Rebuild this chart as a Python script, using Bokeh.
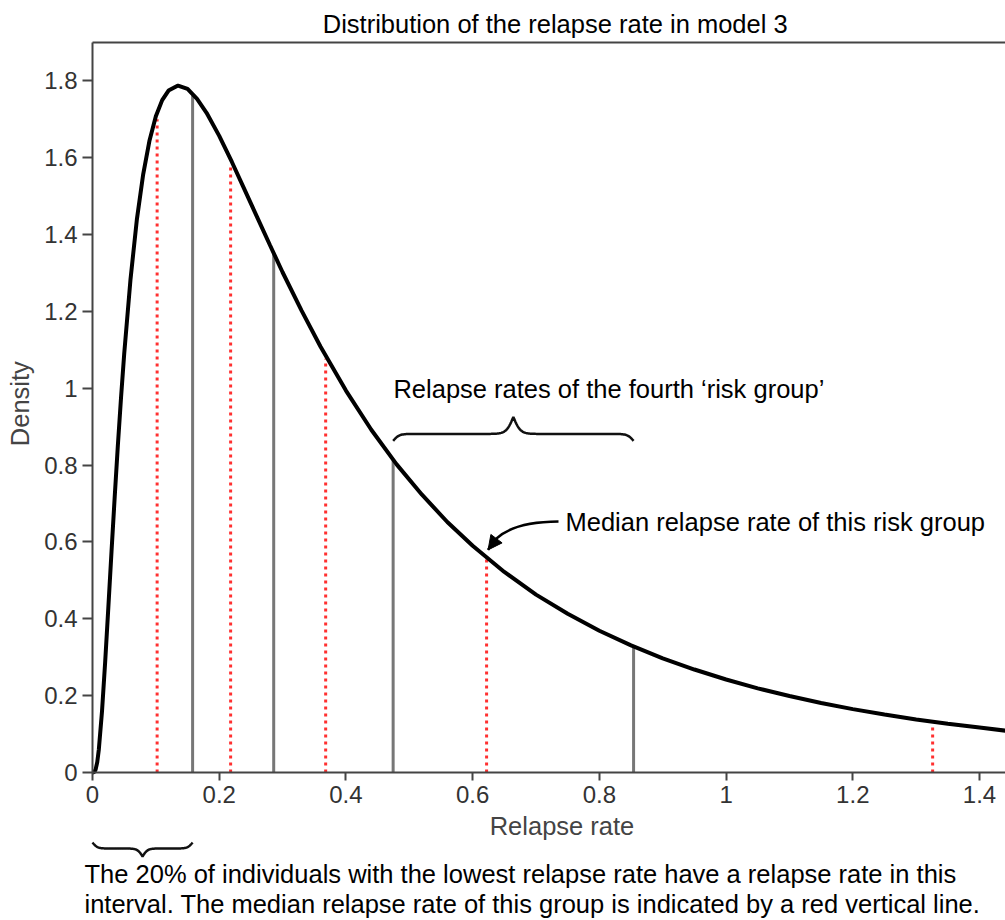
import numpy as np
from bokeh.plotting import figure
from bokeh.models import Label, FixedTicker, Arrow, NormalHead, Range1d
from bokeh.embed import file_html
from bokeh.resources import INLINE

# ---------------- data ----------------
curve_x = [0, 0.0025, 0.005, 0.0075, 0.01, 0.015, 0.02, 0.025, 0.03, 0.035, 0.04, 0.045,
           0.05, 0.06, 0.07, 0.08, 0.09, 0.10, 0.11, 0.12, 0.135, 0.15, 0.165, 0.18,
           0.20, 0.22, 0.24, 0.26, 0.28, 0.30, 0.33, 0.36, 0.40, 0.44, 0.48, 0.52,
           0.56, 0.60, 0.65, 0.70, 0.75, 0.80, 0.85, 0.90, 0.95, 1.00, 1.05, 1.10,
           1.15, 1.20, 1.25, 1.30, 1.35, 1.40, 1.45]
curve_y = [0, 0.001, 0.008, 0.027, 0.060, 0.159, 0.288, 0.430, 0.575, 0.716, 0.851, 0.975,
           1.089, 1.284, 1.439, 1.557, 1.645, 1.708, 1.750, 1.775, 1.788, 1.779, 1.753, 1.717,
           1.657, 1.589, 1.517, 1.445, 1.373, 1.302, 1.202, 1.108, 0.994, 0.892, 0.802, 0.723,
           0.652, 0.590, 0.522, 0.463, 0.413, 0.369, 0.331, 0.297, 0.268, 0.242, 0.219, 0.199,
           0.181, 0.165, 0.151, 0.138, 0.127, 0.117, 0.107]

# quintile boundaries (grey lines) and group medians (red dotted lines)
quintile_x = [0.158, 0.286, 0.4745, 0.854]
quintile_y = [1.762, 1.350, 0.812, 0.328]
median_x = [0.102, 0.218, 0.368, 0.622, 1.326]
median_y = [1.700, 1.584, 1.077, 0.556, 0.122]

x_ticks = [0, 0.2, 0.4, 0.6, 0.8, 1, 1.2, 1.4]
x_tick_labels = ["0", "0.2", "0.4", "0.6", "0.8", "1", "1.2", "1.4"]
y_ticks = [0, 0.2, 0.4, 0.6, 0.8, 1, 1.2, 1.4, 1.6, 1.8]
y_tick_labels = ["0", "0.2", "0.4", "0.6", "0.8", "1", "1.2", "1.4", "1.6", "1.8"]

title_text = "Distribution of the relapse rate in model 3"
x_label = "Relapse rate"
y_label = "Density"
group_text = "Relapse rates of the fourth \u2018risk group\u2019"
median_text = "Median relapse rate of this risk group"
note_lines = ["The 20% of individuals with the lowest relapse rate have a relapse rate in this",
              "interval. The median relapse rate of this group is indicated by a red vertical line."]

# ---------------- layout ----------------
FONT = "Liberation Sans"
TXT = "25.5px"
W, H = 1005, 920
BOX_L, BOX_T, BOX_B = 92, 42, 772          # plot box edges in canvas pixels
X_MAX, Y_MAX = 1.441, 1.9
ux = X_MAX / (W - BOX_L)                    # data units per pixel (x)
uy = Y_MAX / (BOX_B - BOX_T)                # data units per pixel (y)
LIFT = 10                                   # text baseline correction, pixels

# the frame fills the whole canvas; the axes are pinned at 0
p = figure(width=W, height=H, output_backend="svg", toolbar_location=None,
           x_range=Range1d(-BOX_L * ux, X_MAX),
           y_range=Range1d(-(H - BOX_B) * uy, Y_MAX + BOX_T * uy),
           min_border_left=0, min_border_right=0, min_border_top=0, min_border_bottom=0)
p.grid.visible = False
p.outline_line_color = None
p.background_fill_color = "white"
p.border_fill_color = "white"

for ax, ticks, labels, tick_out, bounds in ((p.xaxis[0], x_ticks, x_tick_labels, 8, (0, X_MAX)),
                                            (p.yaxis[0], y_ticks, y_tick_labels, 10, (0, Y_MAX))):
    ax.fixed_location = 0
    ax.bounds = bounds
    ax.ticker = FixedTicker(ticks=ticks)
    ax.major_label_overrides = {t: l for t, l in zip(ticks, labels)}
    ax.axis_line_color = "#444444"
    ax.axis_line_width = 2
    ax.major_tick_line_color = "#444444"
    ax.major_tick_line_width = 2
    ax.major_tick_in = 0
    ax.major_tick_out = tick_out
    ax.minor_tick_line_color = None
    ax.major_label_text_font = FONT
    ax.major_label_text_font_size = "24px"
    ax.major_label_text_color = "#333333"
    ax.major_label_standoff = 5

# top border of the plot box
p.line([0, X_MAX], [Y_MAX, Y_MAX], line_color="#444444", line_width=2)

# grey quintile lines and red dotted median lines
p.segment(x0=quintile_x, y0=[0] * len(quintile_x), x1=quintile_x, y1=quintile_y,
          line_color="#777777", line_width=3)
p.segment(x0=median_x, y0=[0] * len(median_x), x1=median_x, y1=median_y,
          line_color="#ff3030", line_width=3, line_dash="3 4")

# density curve
p.line(curve_x, curve_y, line_color="black", line_width=4)


def label(x, y, text, size=TXT, color="black", align="left", angle=0.0):
    p.add_layout(Label(x=x, y=y, text=text, text_font=FONT, text_font_size=size,
                       text_color=color, text_align=align, text_baseline="alphabetic",
                       angle=angle))


def brace(xa, xb, y_end, h1, h2, s1, s2, n=120):
    xm = (xa + xb) / 2.0
    L = xm - xa
    u = np.linspace(0, L, n)
    yh = y_end + h1 * np.tanh(u / s1) + h2 * (1 - np.tanh((L - u) / s2))
    xs = np.concatenate([xa + u, (xb - u)[::-1]])
    ys = np.concatenate([yh, yh[::-1]])
    return xs, ys


# brace over the fourth risk group
bx, by = brace(quintile_x[2], quintile_x[3], 0.863, 7 * uy, 17 * uy, 6 * ux, 7 * ux)
p.line(bx, by, line_color="#111111", line_width=2.5)

# brace under the first risk group
bx2, by2 = brace(0.0, quintile_x[0], -70 * uy, -6 * uy, -8 * uy, 5 * ux, 5 * ux)
p.line(bx2, by2, line_color="#111111", line_width=2.5)

# curved arrow to the median of the fourth group
tip_x, tip_y = median_x[3] + 1.5 * ux, median_y[3] + 9 * uy
p.quadratic(x0=[0.7355], y0=[0.653], x1=[tip_x], y1=[tip_y], cx=[0.645], cy=[0.652],
            line_color="black", line_width=2.5)
p.add_layout(Arrow(end=NormalHead(size=14, fill_color="black", line_color="black", line_width=1),
                   x_start=tip_x + 6 * ux, y_start=tip_y + 8 * uy, x_end=tip_x, y_end=tip_y,
                   line_color="black", line_width=2.5))

# texts (baselines given in pixels from the x axis, lifted by LIFT)
label(0.7303, (739 + LIFT) * uy, title_text, align="center")
label(-(62.5 + LIFT) * ux, 0.960, y_label, color="#444444", align="center", angle=np.pi / 2)
label(0.741, (-63 + LIFT) * uy, x_label, color="#444444", align="center")
label(0.475, (374 + LIFT) * uy, group_text)
label(0.7465, (241 + LIFT) * uy, median_text)
label(-8 * ux, (-111.3 + LIFT) * uy, note_lines[0])
label(-8 * ux, (-141 + LIFT) * uy, note_lines[1])

open("out.html", "w").write(file_html(p, INLINE))
